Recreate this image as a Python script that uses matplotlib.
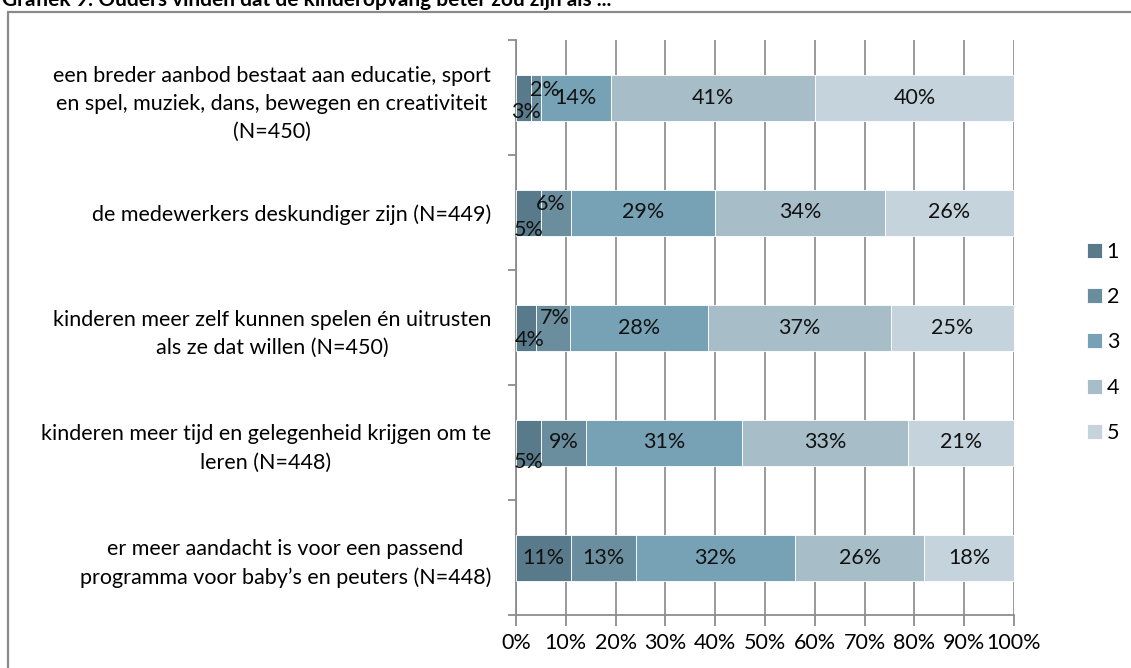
import numpy as np
import matplotlib
matplotlib.use("Agg")
import matplotlib.pyplot as plt
from matplotlib.patches import Rectangle

# ── data ─────────────────────────────────────────────────────────────────────
categories = [
    "een breder aanbod bestaat aan educatie, sport\nen spel, muziek, dans, bewegen en creativiteit\n(N=450)",
    "de medewerkers deskundiger zijn (N=449)",
    "kinderen meer zelf kunnen spelen én uitrusten\nals ze dat willen (N=450)",
    "kinderen meer tijd en gelegenheid krijgen om te\nleren (N=448)",
    "er meer aandacht is voor een passend\nprogramma voor baby’s en peuters (N=448)",
]
series_names = ["1", "2", "3", "4", "5"]
score_1 = [3, 5, 4, 5, 11]
score_2 = [2, 6, 7, 9, 13]
score_3 = [14, 29, 28, 31, 32]
score_4 = [41, 34, 37, 33, 26]
score_5 = [40, 26, 25, 21, 18]
x_ticklabels = ["0%", "10%", "20%", "30%", "40%", "50%", "60%", "70%", "80%", "90%", "100%"]

colors = ["#587a8b", "#6b8e9e", "#77a2b5", "#a7bdc8", "#c5d4dc"]
FONT = "Lato"
FS = 15.5

# small labels that Excel pushes off-centre: (row, series) -> (dx pts, dy pts)
label_shift = {
    (0, 0): (2, -10.5), (0, 1): (6.5, 5.5),
    (1, 0): (0, -12.5), (1, 1): (-4, 6),
    (2, 0): (3, -9), (2, 1): (1.5, 7),
    (3, 0): (0, -14),
}

series = np.array([score_1, score_2, score_3, score_4, score_5], dtype=float)
frac = series / series.sum(axis=0)  # 100% stacked

fig = plt.figure(figsize=(11.31, 6.68), dpi=100)
ax = fig.add_axes([516 / 1131, 1 - 615 / 668, 498 / 1131, 575 / 668])

ypos = np.arange(len(categories))
left = np.zeros(len(categories))
for i, name in enumerate(series_names):
    ax.barh(ypos, frac[i], left=left, height=0.4, color=colors[i],
            label=name, zorder=3, edgecolor="white", linewidth=0.6)
    for r in range(len(categories)):
        dx, dy = label_shift.get((r, i), (0, 0))
        ax.annotate(f"{int(series[i, r])}%",
                    xy=(left[r] + frac[i, r] / 2, ypos[r]),
                    xytext=(dx, dy), textcoords="offset points",
                    ha="center", va="center", fontsize=FS,
                    family=FONT, color="#111111", zorder=5)
    left += frac[i]

ax.set_xlim(0, 1)
ax.set_ylim(len(categories) - 0.5, -0.5)
ax.set_xticks(np.linspace(0, 1, 11))
ax.set_xticklabels(x_ticklabels, family=FONT, fontsize=FS)
ax.set_yticks(ypos)
ax.set_yticklabels(categories, family=FONT, fontsize=FS,
                   multialignment="center", linespacing=1.5)
ax.tick_params(axis="y", length=0, pad=18)
ax.set_yticks(np.arange(-0.5, len(categories)), minor=True)
ax.tick_params(axis="y", which="minor", length=6, color="#8c8c8c", width=1.3)
ax.tick_params(axis="x", length=8, color="#8c8c8c", width=1.3, direction="out", pad=5)

ax.xaxis.grid(True, color="#9a9a9a", linewidth=1.4, zorder=0)
for s in ["top", "right"]:
    ax.spines[s].set_visible(False)
for s in ["left", "bottom"]:
    ax.spines[s].set_color("#8c8c8c")
    ax.spines[s].set_linewidth(1.3)

leg = ax.legend(loc="center left", bbox_to_anchor=(1.13, 0.474), frameon=False,
                prop={"family": FONT, "size": FS}, handlelength=0.7,
                handleheight=0.7, labelspacing=1.17, handletextpad=0.2,
                borderaxespad=0)

# outer chart border (clipped by the image edges)
fig.patches.append(Rectangle((8 / 1131, -0.02), 1.2, 1 - 12 / 668 + 0.02,
                             transform=fig.transFigure, fill=False,
                             edgecolor="#8a8a8a", linewidth=1.6))

# title cut off by the top of the image
fig.text(0.002, 1 - 6 / 668, "Grafiek 9: Ouders vinden dat de kinderopvang beter zou zijn als ...",
         family=FONT, fontsize=15, fontweight="bold", va="baseline", ha="left")

fig.savefig("out.png", dpi=100)
